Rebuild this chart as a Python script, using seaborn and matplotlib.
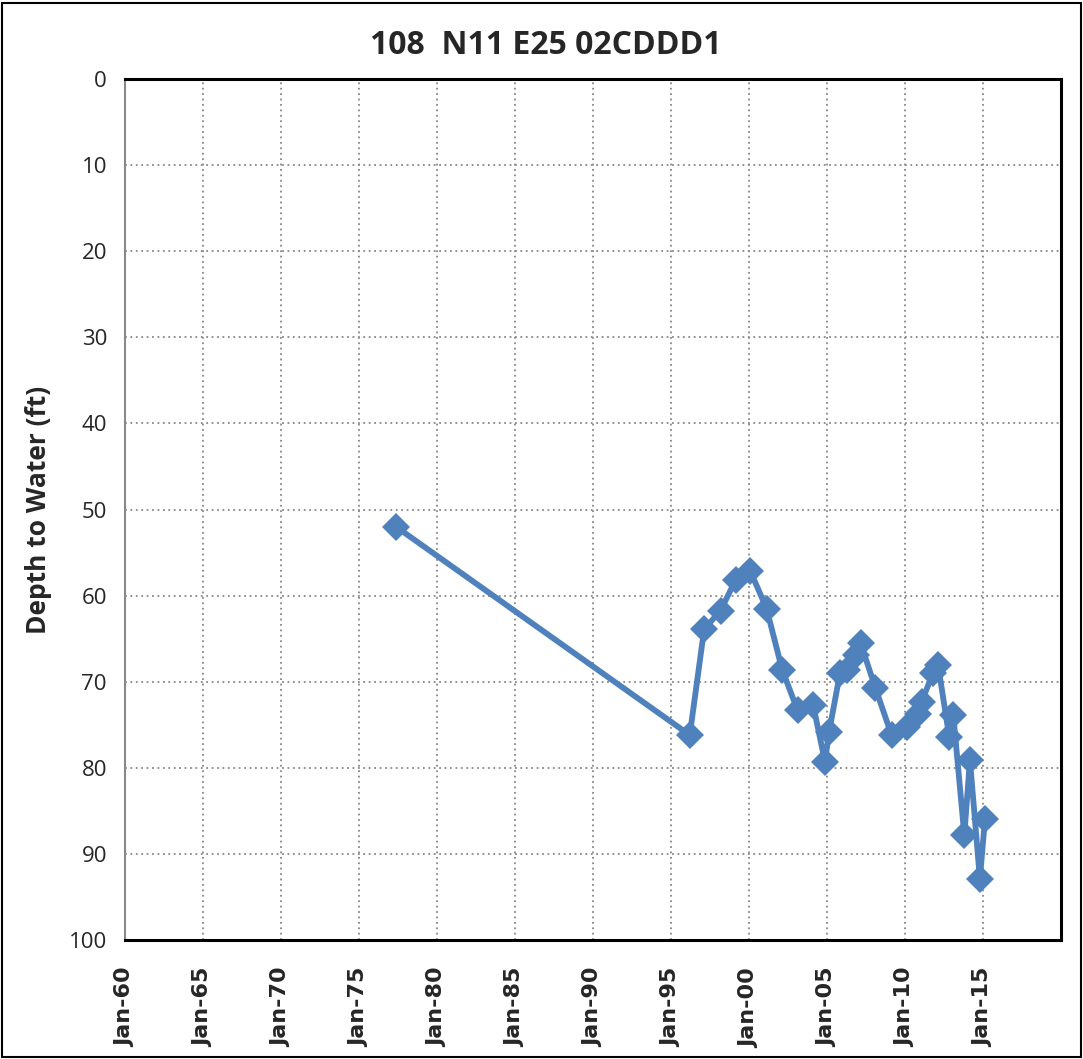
import matplotlib
matplotlib.use("Agg")
import matplotlib.pyplot as plt
import matplotlib.dates as mdates
import seaborn as sns
import pandas as pd
from matplotlib.patches import Rectangle

title = "108  N11 E25 02CDDD1"
ylabel = "Depth to Water (ft)"

dates = ["1977-05-15", "1996-03-15", "1997-02-15", "1998-03-05", "1999-02-20",
         "2000-02-05", "2001-02-15", "2002-02-15", "2003-02-10", "2004-02-10",
         "2004-11-15", "2005-02-15", "2005-11-01", "2006-04-05", "2006-11-01",
         "2007-02-25", "2008-02-05", "2009-02-20", "2010-02-05", "2010-11-05",
         "2011-01-25", "2011-10-20", "2012-02-15", "2012-11-01", "2013-02-05",
         "2013-10-20", "2014-03-01", "2014-10-20", "2015-02-15"]
depth = [52.0, 76.2, 63.9, 61.75, 58.2,
         57.2, 61.5, 68.6, 73.3, 72.7,
         79.3, 75.9, 69.0, 68.6, 66.9,
         65.5, 70.7, 76.2, 75.3, 73.7,
         72.3, 69.0, 68.1, 76.4, 73.9,
         87.8, 79.1, 92.9, 86.0]

tick_years = list(range(1960, 2020, 5))

sns.set_style("white")
df = pd.DataFrame({"date": pd.to_datetime(dates), "depth": depth})

fig = plt.figure(figsize=(10.83, 10.59), dpi=100)
ax = fig.add_axes([125/1083, 1 - 940/1059, (1061-125)/1083, (940-79)/1059])

sns.lineplot(data=df, x="date", y="depth", sort=False, ax=ax, color="#4F81BD",
             linewidth=4.2, marker="D", markersize=14, markeredgecolor="#4F81BD",
             markeredgewidth=0)

ax.set_xlim(pd.Timestamp("1960-01-01"), pd.Timestamp("2020-01-01"))
ax.set_ylim(100, 0)
ax.set_yticks(range(0, 101, 10))
ax.set_xticks([pd.Timestamp(f"{y}-01-01") for y in tick_years])
ax.xaxis.set_major_formatter(mdates.DateFormatter("%b-%y"))
ax.grid(True, linestyle=(0, (1, 2)), color="#888888", linewidth=1.3)
ax.set_axisbelow(True)

ax.tick_params(axis="y", direction="out", length=7, width=1.2, color="#888888", pad=6,
               labelsize=16)
ax.tick_params(axis="x", length=0, pad=20, labelsize=16, labelrotation=90)

for lab in ax.get_xticklabels():
    lab.set_fontweight("bold")
    lab.set_family("DejaVu Sans")
for lab in ax.get_yticklabels():
    lab.set_family("Open Sans")

for s in ["top", "right", "bottom"]:
    ax.spines[s].set_color("black")
    ax.spines[s].set_linewidth(2.2)
ax.spines["left"].set_color("#888888")
ax.spines["left"].set_linewidth(1.5)

ax.set_xlabel("")
ax.set_ylabel(ylabel, fontsize=19, fontweight="bold", family="Open Sans", labelpad=12)
fig.text(546/1083, 1 - 45/1059, title, ha="center", va="center", fontsize=23,
         fontweight="bold", family="Open Sans")

fig.patches.append(Rectangle((0.002, 0.002), 0.996, 0.995, transform=fig.transFigure,
                             fill=False, edgecolor="black", linewidth=1.5))

fig.savefig("out.png", dpi=100)
